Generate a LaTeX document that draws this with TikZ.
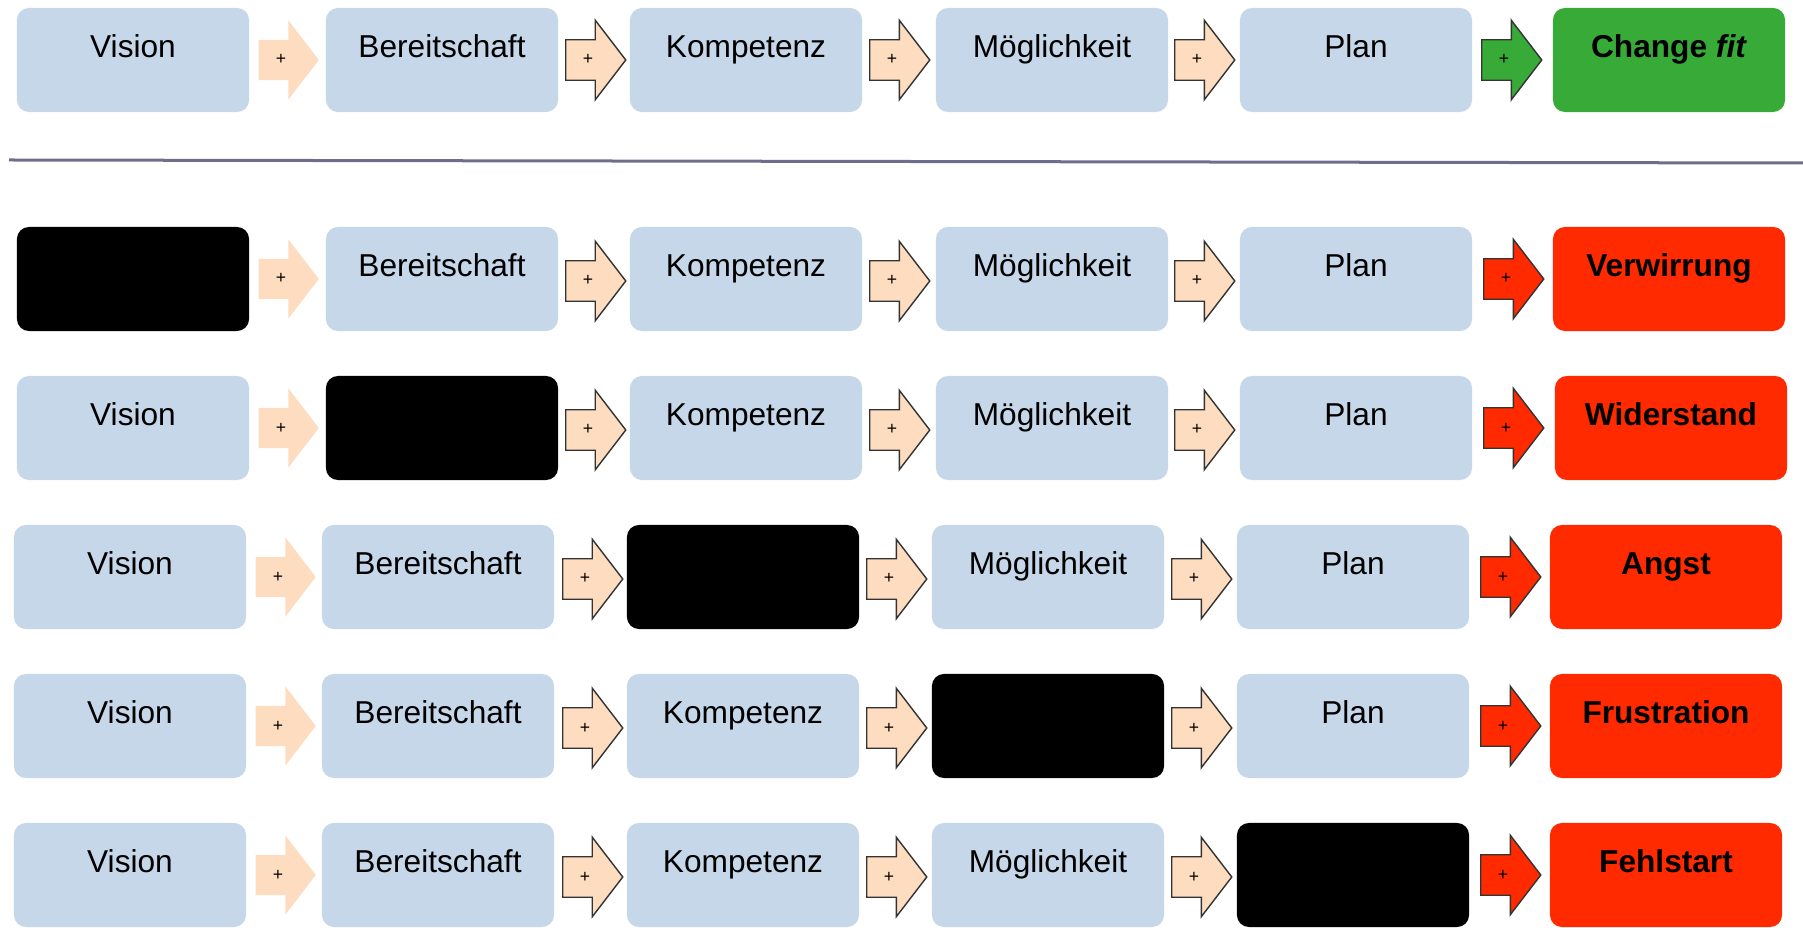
\documentclass[tikz,border=0pt]{standalone}
\usepackage{fontspec}
\setmainfont{Liberation Sans}
\usetikzlibrary{shapes.arrows}

\definecolor{boxblue}{HTML}{C5D7E9}
\definecolor{peach}{HTML}{FDDCC0}
\definecolor{fitgreen}{HTML}{38AA38}
\definecolor{failred}{HTML}{FF2A00}
\definecolor{rulegray}{HTML}{6E6E8C}

\tikzset{
  box/.style={rounded corners=0.12cm, minimum width=2.32cm, minimum height=1.04cm,
    inner sep=0pt, text height=0.25cm, text depth=0.30cm,
    font=\fontsize{9}{10}\selectfont, fill=boxblue},
  blank/.style={box, fill=black},
  goodbox/.style={box, fill=fitgreen, font=\fontsize{9}{10}\selectfont\bfseries},
  badbox/.style={box, fill=failred, font=\fontsize{9}{10}\selectfont\bfseries},
  arr/.style={single arrow, single arrow head extend=0.195cm, single arrow tip angle=105,
    minimum height=0.60cm, inner xsep=0pt, inner ysep=0.145cm,
    text height=0.1cm, text depth=0cm, xshift=-0.06cm,
    font=\fontsize{5}{5}\selectfont, fill=peach},
  arrline/.style={arr, draw=black!80, line width=0.4pt},
}

\begin{document}
\begin{tikzpicture}[x=0.01cm, y=-0.01cm]
\useasboundingbox (0,0) rectangle (1803,928);
% the good case
\node[box] (vis1) at (133,60) {Vision};
\node[arr] (a11) at (287,60) {+};
\node[box] (ber1) at (442,60) {Bereitschaft};
\node[arrline] (a12) at (594,60) {+};
\node[box] (kom1) at (746,60) {Kompetenz};
\node[arrline] (a13) at (898,60) {+};
\node[box] (moe1) at (1052,60) {Möglichkeit};
\node[arrline] (a14) at (1203,60) {+};
\node[box] (pla1) at (1356,60) {Plan};
\node[arrline, fill=fitgreen] (a15) at (1510,60) {+};
\node[goodbox] (res1) at (1669,60) {Change \textit{fit}};
% separating line
\coordinate (l1) at (9,160);
\coordinate (l2) at (1803,163);
\draw[rulegray, line width=0.03cm] (l1) -- (l2);
% the bad cases
%     no vision
\node[blank] (vis2) at (133,279) {};
\node[arr] (a21) at (287,279) {+};
\node[box] (ber2) at (442,279) {Bereitschaft};
\node[arrline] (a22) at (594,281) {+};
\node[box] (kom2) at (746,279) {Kompetenz};
\node[arrline] (a23) at (898,281) {+};
\node[box] (moe2) at (1052,279) {Möglichkeit};
\node[arrline] (a24) at (1203,281) {+};
\node[box] (pla2) at (1356,279) {Plan};
\node[arrline, fill=failred] (a25) at (1512,279) {+};
\node[badbox] (res2) at (1669,279) {Verwirrung};
%     no readiness
\node[box] (vis3) at (133,428) {Vision};
\node[arr] (a31) at (287,428) {+};
\node[blank] (ber3) at (442,428) {};
\node[arrline] (a32) at (594,430) {+};
\node[box] (kom3) at (746,428) {Kompetenz};
\node[arrline] (a33) at (898,430) {+};
\node[box] (moe3) at (1052,428) {Möglichkeit};
\node[arrline] (a34) at (1203,430) {+};
\node[box] (pla3) at (1356,428) {Plan};
\node[arrline, fill=failred] (a35) at (1512,428) {+};
\node[badbox] (res3) at (1671,428) {Widerstand};
%     no competence
\node[box] (vis4) at (130,577) {Vision};
\node[arr] (a41) at (284,577) {+};
\node[box] (ber4) at (438,577) {Bereitschaft};
\node[arrline] (a42) at (591,579) {+};
\node[blank] (kom4) at (743,577) {};
\node[arrline] (a43) at (895,579) {+};
\node[box] (moe4) at (1048,577) {Möglichkeit};
\node[arrline] (a44) at (1200,579) {+};
\node[box] (pla4) at (1353,577) {Plan};
\node[arrline, fill=failred] (a45) at (1509,577) {+};
\node[badbox] (res4) at (1666,577) {Angst};
%     no opportunity
\node[box] (vis5) at (130,726) {Vision};
\node[arr] (a51) at (284,726) {+};
\node[box] (ber5) at (438,726) {Bereitschaft};
\node[arrline] (a52) at (591,728) {+};
\node[box] (kom5) at (743,726) {Kompetenz};
\node[arrline] (a53) at (895,728) {+};
\node[blank] (moe5) at (1048,726) {};
\node[arrline] (a54) at (1200,728) {+};
\node[box] (pla5) at (1353,726) {Plan};
\node[arrline, fill=failred] (a55) at (1509,726) {+};
\node[badbox] (res5) at (1666,726) {Frustration};
%     no plan
\node[box] (vis6) at (130,875) {Vision};
\node[arr] (a61) at (284,875) {+};
\node[box] (ber6) at (438,875) {Bereitschaft};
\node[arrline] (a62) at (591,877) {+};
\node[box] (kom6) at (743,875) {Kompetenz};
\node[arrline] (a63) at (895,877) {+};
\node[box] (moe6) at (1048,875) {Möglichkeit};
\node[arrline] (a64) at (1200,877) {+};
\node[blank] (pla6) at (1353,875) {};
\node[arrline, fill=failred] (a65) at (1509,875) {+};
\node[badbox] (res6) at (1666,875) {Fehlstart};
\end{tikzpicture}
\end{document}
